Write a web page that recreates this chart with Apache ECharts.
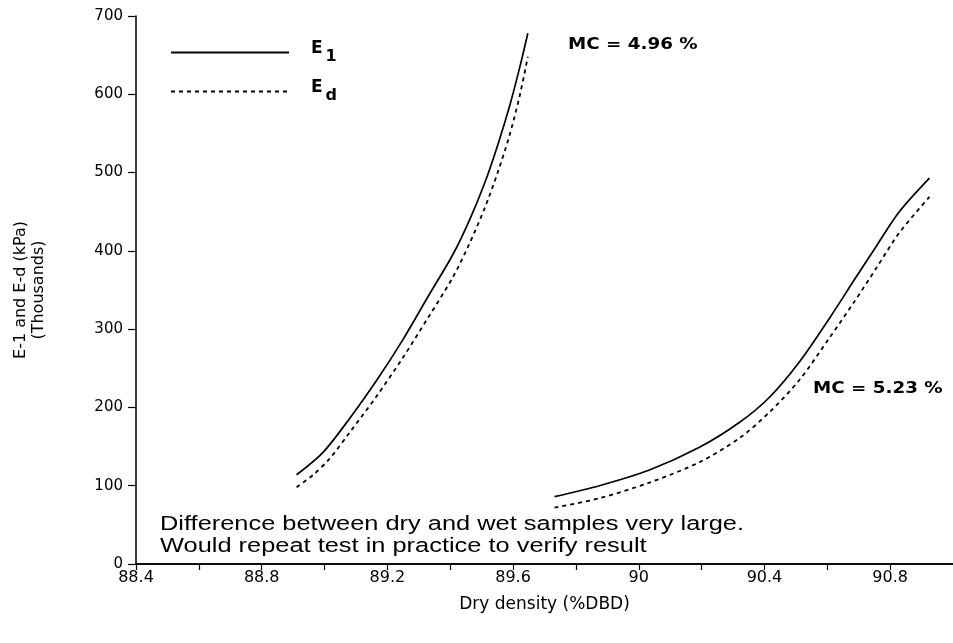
<!DOCTYPE html>
<html>
<head>
<meta charset="utf-8">
<script src="https://cdn.jsdelivr.net/npm/echarts@6/dist/echarts.min.js"></script>
<style>html,body{margin:0;padding:0;background:#fff;}#c{width:953px;height:643px;}</style>
</head>
<body>
<div id="c"></div>
<script>
// X tick labels (every 0.4), minor ticks every 0.2
const xTickLabels = ['88.4', '88.8', '89.2', '89.6', '90', '90.4', '90.8'];
const yTickLabels = ['0', '100', '200', '300', '400', '500', '600', '700'];

// MC = 4.96 %  (left pair)
const leftE1X = [88.911, 88.996, 89.080, 89.165, 89.250, 89.330, 89.408, 89.462, 89.510, 89.551, 89.589, 89.621, 89.647];
const leftE1Y = [114, 143, 186, 234, 287, 342, 395, 440, 487, 535, 585, 634, 678];
const leftEdX = [88.911, 88.964, 89.017, 89.080, 89.165, 89.250, 89.330, 89.408, 89.462, 89.510, 89.551, 89.589, 89.621, 89.647];
const leftEdY = [98, 114, 135, 168, 214, 264, 315, 366, 410, 455, 500, 548, 598, 648];

// MC = 5.23 %  (right pair)
const rightE1X = [89.732, 89.875, 90.034, 90.193, 90.321, 90.416, 90.511, 90.607, 90.686, 90.756, 90.829, 90.925];
const rightE1Y = [86, 100, 120, 149, 181, 213, 258, 314, 363, 406, 450, 493];
const rightEdX = [89.732, 89.875, 90.034, 90.193, 90.321, 90.416, 90.511, 90.607, 90.686, 90.756, 90.829, 90.925];
const rightEdY = [72, 84, 104, 130, 161, 194, 235, 289, 335, 378, 423, 469];

const zip = (xs, ys) => xs.map((x, i) => [x, ys[i]]);
const FONT = 'Liberation Sans';
const WIDE = 'DejaVu Sans';
const solid = { color: '#000', width: 1.7, type: 'solid' };
const dashed = { color: '#000', width: 1.8, type: [4, 4] };

const chart = echarts.init(document.getElementById('c'), null, { renderer: 'canvas' });
chart.setOption({
  animation: false,
  backgroundColor: '#fff',
  grid: { left: 136, right: 0, top: 16, bottom: 79, containLabel: false },
  legend: {
    orient: 'vertical', left: 170, top: 40, padding: 0,
    itemWidth: 118, itemHeight: 12, itemGap: 14,
    data: ['E1', 'Ed'],
    itemStyle: { opacity: 0 },
    formatter: n => n === 'E1' ? '{e|E}{s|1}' : '{e|E}{s|d}',
    textStyle: {
      padding: [0, 0, 0, 17],
      rich: {
        e: { fontFamily: WIDE, fontSize: 17, fontWeight: 'bold', color: '#000', verticalAlign: 'top', lineHeight: 20 },
        s: { fontFamily: WIDE, fontSize: 16, fontWeight: 'bold', color: '#000', verticalAlign: 'bottom', lineHeight: 25, padding: [0, 0, 0, 3] }
      }
    }
  },
  xAxis: [{
    type: 'value', min: 88.4, max: 91.0, interval: 0.2,
    name: 'Dry density (%DBD)', nameLocation: 'middle', nameGap: 32,
    nameTextStyle: { fontFamily: WIDE, fontSize: 17, color: '#000' },
    axisLine: { show: true, onZero: false, lineStyle: { color: '#000', width: 1.5 } },
    axisTick: { show: true, inside: false, length: 6, lineStyle: { color: '#000', width: 1.2 } },
    splitLine: { show: false },
    axisLabel: {
      fontFamily: WIDE, fontSize: 16, color: '#000', margin: 6,
      showMaxLabel: false,
      formatter: v => {
        const s = String(Math.round(v * 10) / 10);
        return xTickLabels.includes(s) ? s : '';
      }
    }
  }, {
    type: 'value', min: 88.4, max: 91.0, position: 'top',
    axisLine: { show: true, lineStyle: { color: '#000', width: 1.5 } },
    axisTick: { show: false }, axisLabel: { show: false }, splitLine: { show: false }
  }],
  yAxis: {
    type: 'value', min: 0, max: 700, interval: 100,
    name: 'E-1 and E-d (kPa)\n(Thousands)', nameLocation: 'middle', nameGap: 88, nameRotate: 90,
    nameTextStyle: { fontFamily: WIDE, fontSize: 16, color: '#000', lineHeight: 18 },
    axisLine: { show: true, lineStyle: { color: '#000', width: 1.5 } },
    axisTick: { show: true, length: 8, lineStyle: { color: '#000', width: 1.2 } },
    splitLine: { show: false },
    axisLabel: {
      fontFamily: WIDE, fontSize: 15, color: '#000', margin: 13,
      formatter: v => yTickLabels.includes(String(v)) ? String(v) : ''
    }
  },
  series: [
    { name: 'E1', type: 'line', smooth: 0.3, symbol: 'none', data: zip(leftE1X, leftE1Y), lineStyle: solid, itemStyle: { color: '#000' } },
    { name: 'Ed', type: 'line', smooth: 0.3, symbol: 'none', data: zip(leftEdX, leftEdY), lineStyle: dashed, itemStyle: { color: '#000' } },
    { name: 'E1', type: 'line', smooth: 0.3, symbol: 'none', data: zip(rightE1X, rightE1Y), lineStyle: solid, itemStyle: { color: '#000' } },
    { name: 'Ed', type: 'line', smooth: 0.3, symbol: 'none', data: zip(rightEdX, rightEdY), lineStyle: dashed, itemStyle: { color: '#000' } }
  ],
  graphic: [
    { type: 'text', x: 568, y: 38, scaleX: 1.22, style: { text: 'MC = 4.96 %', fontFamily: WIDE, fontSize: 15, fontWeight: 'bold', fill: '#000' } },
    { type: 'text', x: 813, y: 382, scaleX: 1.22, style: { text: 'MC = 5.23 %', fontFamily: WIDE, fontSize: 15, fontWeight: 'bold', fill: '#000' } },
    { type: 'text', x: 160, y: 513, scaleX: 1.27, style: { text: 'Difference between dry and wet samples very large.\nWould repeat test in practice to verify result', fontFamily: FONT, fontSize: 20, lineHeight: 22, fill: '#000' } }
  ]
});
</script>
</body>
</html>
